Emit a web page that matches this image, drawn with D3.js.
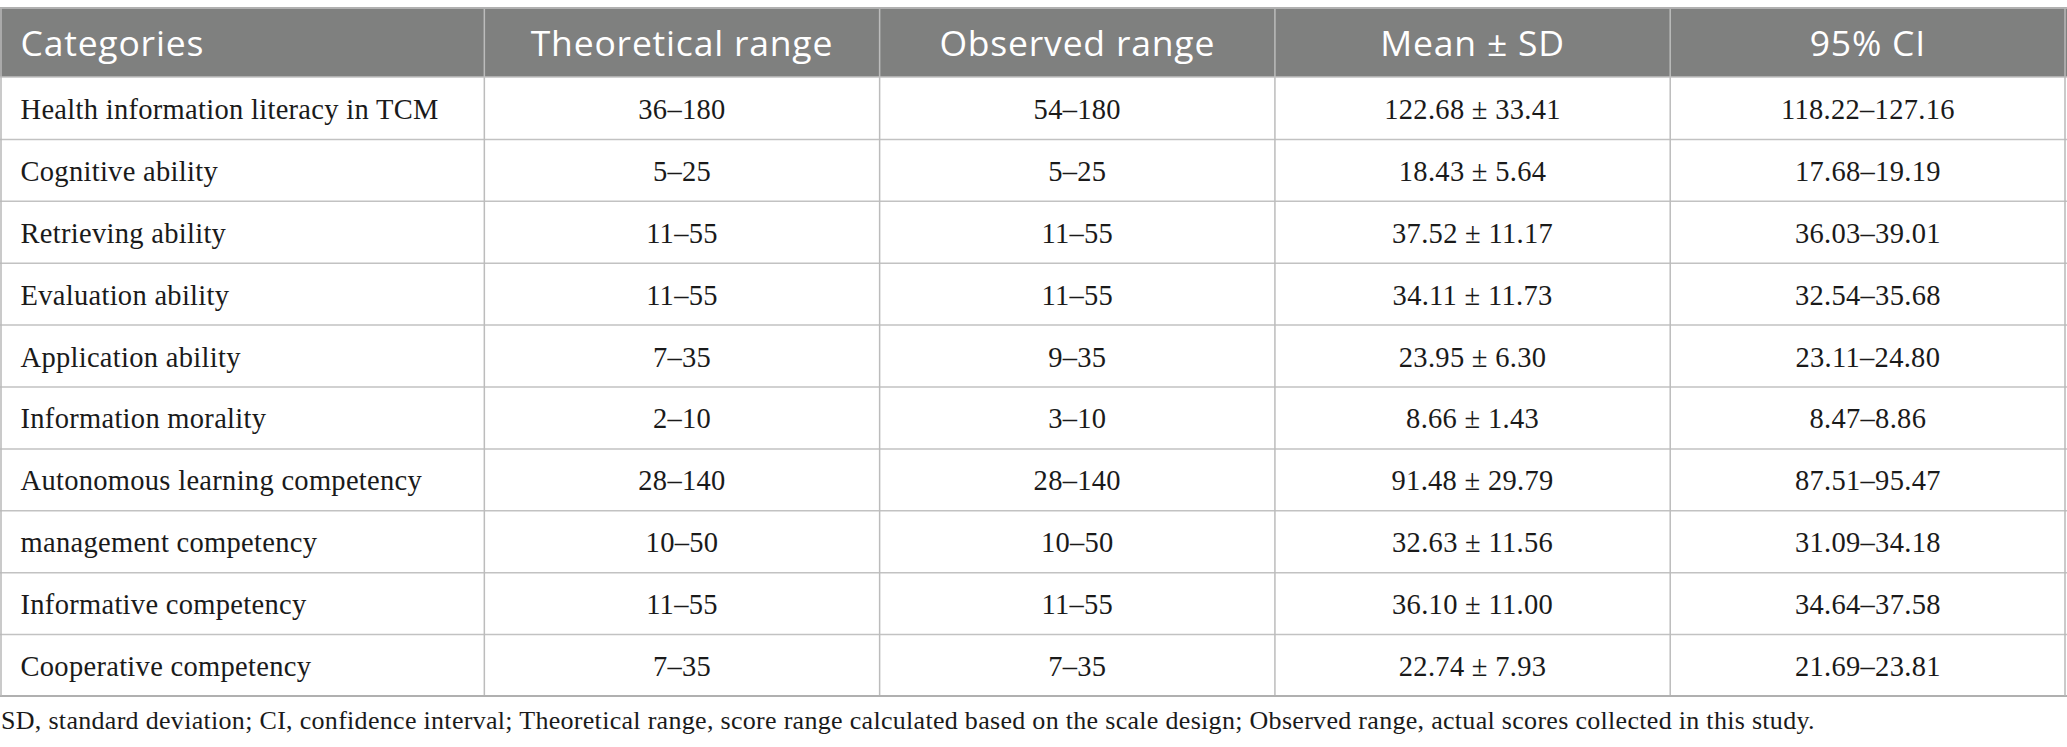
<!DOCTYPE html>
<html>
<head>
<meta charset="utf-8">
<script src="https://cdn.jsdelivr.net/npm/d3@7"></script>
<style>
  body { margin: 0; background: #fff; }
  svg { display: block; }
</style>
</head>
<body>
<svg id="chart"></svg>
<script>
// table content
const headers = ["Categories", "Theoretical range", "Observed range", "Mean ± SD", "95% CI"];
const categories = [
    "Health information literacy in TCM",
    "Cognitive ability",
    "Retrieving ability",
    "Evaluation ability",
    "Application ability",
    "Information morality",
    "Autonomous learning competency",
    "management competency",
    "Informative competency",
    "Cooperative competency"
];
const theoreticalRange = ["36–180", "5–25", "11–55", "11–55", "7–35", "2–10", "28–140", "10–50", "11–55", "7–35"];
const observedRange = ["54–180", "5–25", "11–55", "11–55", "9–35", "3–10", "28–140", "10–50", "11–55", "7–35"];
const meanSD = ["122.68 ± 33.41", "18.43 ± 5.64", "37.52 ± 11.17", "34.11 ± 11.73", "23.95 ± 6.30",
    "8.66 ± 1.43", "91.48 ± 29.79", "32.63 ± 11.56", "36.10 ± 11.00", "22.74 ± 7.93"];
const ci95 = ["118.22–127.16", "17.68–19.19", "36.03–39.01", "32.54–35.68", "23.11–24.80",
    "8.47–8.86", "87.51–95.47", "31.09–34.18", "34.64–37.58", "21.69–23.81"];
const footnote = "SD, standard deviation; CI, confidence interval; Theoretical range, score range calculated based on the scale design; Observed range, actual scores collected in this study.";

const width = 2067, height = 747;
const tableTop = 8, headerBottom = 77, tableBottom = 696;
const colWeights = [1.224, 1, 1, 1, 1];

const svg = d3.select("#chart").attr("width", width).attr("height", height);
svg.append("rect").attr("width", width).attr("height", height).attr("fill", "#fff");

// column edges from cumulative weights
const cum = [0];
colWeights.forEach(w => cum.push(cum[cum.length - 1] + w));
const xEdge = d3.scaleLinear().domain([0, cum[cum.length - 1]]).range([0.5, width - 1.5]);
const colLeft = i => xEdge(cum[i]);
const colMid = i => (xEdge(cum[i]) + xEdge(cum[i + 1])) / 2;

const y = d3.scaleBand().domain(categories).range([headerBottom, tableBottom]);

// rows as arrays of cells
const rows = categories.map((c, i) => [c, theoreticalRange[i], observedRange[i], meanSD[i], ci95[i]]);

// header band
svg.append("rect")
    .attr("x", 0).attr("y", tableTop)
    .attr("width", width).attr("height", headerBottom - tableTop)
    .attr("fill", "#7f807f");

svg.selectAll(".hdr")
    .data(headers)
    .enter().append("text")
    .attr("class", "hdr")
    .attr("x", (d, i) => i === 0 ? colLeft(0) + 20 : colMid(i))
    .attr("y", (tableTop + headerBottom) / 2 + 13.5)
    .attr("text-anchor", (d, i) => i === 0 ? "start" : "middle")
    .style("font-family", "'Open Sans', sans-serif")
    .style("font-size", "35.5px")
    .style("letter-spacing", "0.8px")
    .style("fill", "#fff")
    .text(d => d);

// grid lines
const grid = svg.append("g");
grid.selectAll(".hline")
    .data(categories.slice(1))
    .enter().append("line")
    .attr("x1", 0).attr("x2", width)
    .attr("y1", d => y(d) + 0.5).attr("y2", d => y(d) + 0.5)
    .attr("stroke", "#c2c2c2").attr("stroke-width", 1.5);

grid.selectAll(".vline")
    .data(d3.range(1, headers.length))
    .enter().append("line")
    .attr("x1", i => colLeft(i)).attr("x2", i => colLeft(i))
    .attr("y1", tableTop).attr("y2", tableBottom)
    .attr("stroke", "#bcbcbc").attr("stroke-width", 1.5);

// outer frame
grid.append("line").attr("x1", 0).attr("x2", width).attr("y1", tableTop).attr("y2", tableTop)
    .attr("stroke", "#b0b0b0").attr("stroke-width", 2);
grid.append("line").attr("x1", 0).attr("x2", width).attr("y1", headerBottom).attr("y2", headerBottom)
    .attr("stroke", "#c2c2c2").attr("stroke-width", 1.5);
grid.append("line").attr("x1", 0).attr("x2", width).attr("y1", tableBottom).attr("y2", tableBottom)
    .attr("stroke", "#b0b0b0").attr("stroke-width", 2);
grid.append("line").attr("x1", 1).attr("x2", 1).attr("y1", tableTop).attr("y2", tableBottom)
    .attr("stroke", "#b8b8b8").attr("stroke-width", 1.5);
grid.append("line").attr("x1", width - 2).attr("x2", width - 2).attr("y1", tableTop).attr("y2", tableBottom)
    .attr("stroke", "#b8b8b8").attr("stroke-width", 1.5);

// body cells
const rowG = svg.selectAll(".row")
    .data(rows)
    .enter().append("g")
    .attr("class", "row")
    .attr("transform", d => `translate(0, ${y(d[0]) + y.bandwidth() / 2 + 11})`);

rowG.selectAll("text")
    .data(d => d)
    .enter().append("text")
    .attr("x", (d, i) => i === 0 ? colLeft(0) + 20 : colMid(i))
    .attr("text-anchor", (d, i) => i === 0 ? "start" : "middle")
    .style("font-family", "'Liberation Serif', 'Times New Roman', serif")
    .style("font-size", "28.5px")
    .style("letter-spacing", "0.3px")
    .style("fill", "#1a1a1a")
    .text(d => d);

// footnote
svg.append("text")
    .attr("x", 1)
    .attr("y", 729)
    .style("font-family", "'Liberation Serif', 'Times New Roman', serif")
    .style("font-size", "26px")
    .style("letter-spacing", "0.3px")
    .style("fill", "#1a1a1a")
    .text(footnote);
</script>
</body>
</html>
